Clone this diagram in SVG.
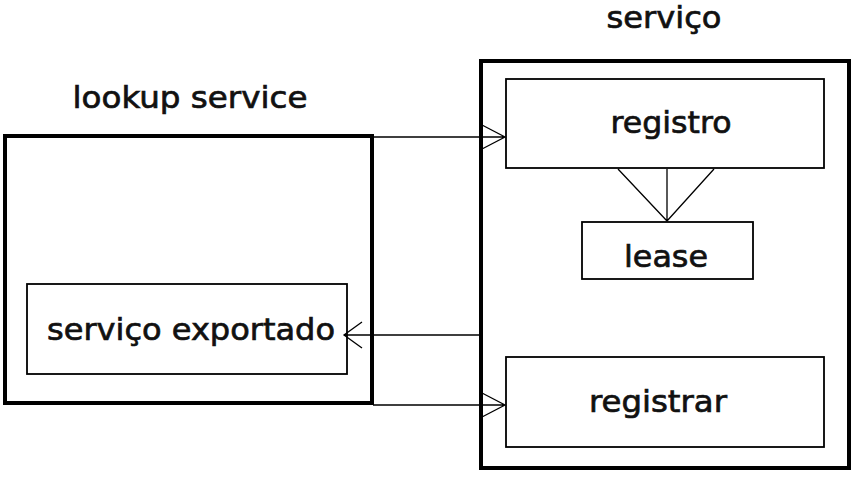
<svg xmlns="http://www.w3.org/2000/svg" width="863" height="489" viewBox="0 0 863 489">
<style>
.outer{fill:none;stroke:#000;stroke-width:4}
.inner{fill:#fff;stroke:#000;stroke-width:1.8}
.conn{fill:none;stroke:#000;stroke-width:1.3}
text{font-family:"DejaVu Sans","Liberation Sans",sans-serif;font-size:31px;fill:#111;stroke:#111;stroke-width:0.7;text-anchor:middle}
</style>
<rect width="863" height="489" fill="#fff"/>
<g id="lookup">
<rect class="outer" x="5" y="136" width="367" height="267"/>
<text x="190" y="108" textLength="235" lengthAdjust="spacingAndGlyphs">lookup service</text>
</g>
<g id="servico">
<rect class="outer" x="481" y="61" width="368" height="407"/>
<text x="664" y="28" font-size="28" textLength="115" lengthAdjust="spacingAndGlyphs">serviço</text>
</g>
<g id="exportado">
<rect class="inner" x="27" y="284" width="320" height="90"/>
<text x="191" y="340" textLength="288" lengthAdjust="spacingAndGlyphs">serviço exportado</text>
</g>
<g id="registro">
<rect class="inner" x="506" y="79" width="318" height="89"/>
<text x="671" y="133" textLength="121" lengthAdjust="spacingAndGlyphs">registro</text>
</g>
<g id="lease">
<rect class="inner" x="582" y="222" width="171" height="57"/>
<text x="666" y="267" textLength="84" lengthAdjust="spacingAndGlyphs">lease</text>
</g>
<g id="registrar">
<rect class="inner" x="506" y="357" width="318" height="90"/>
<text x="658" y="412" textLength="138" lengthAdjust="spacingAndGlyphs">registrar</text>
</g>
<g id="connectors">
<path class="conn" d="M373,137 H505 M482,125 L505,137 L482,149"/>
<path class="conn" d="M481,335 H344 M362,322 L344,335 L362,348"/>
<path class="conn" d="M373,405 H505 M482,393 L505,405 L482,417"/>
<path class="conn" d="M618,169 L667,221 M667,169 V221 M714,169 L667,221"/>
</g>
</svg>
